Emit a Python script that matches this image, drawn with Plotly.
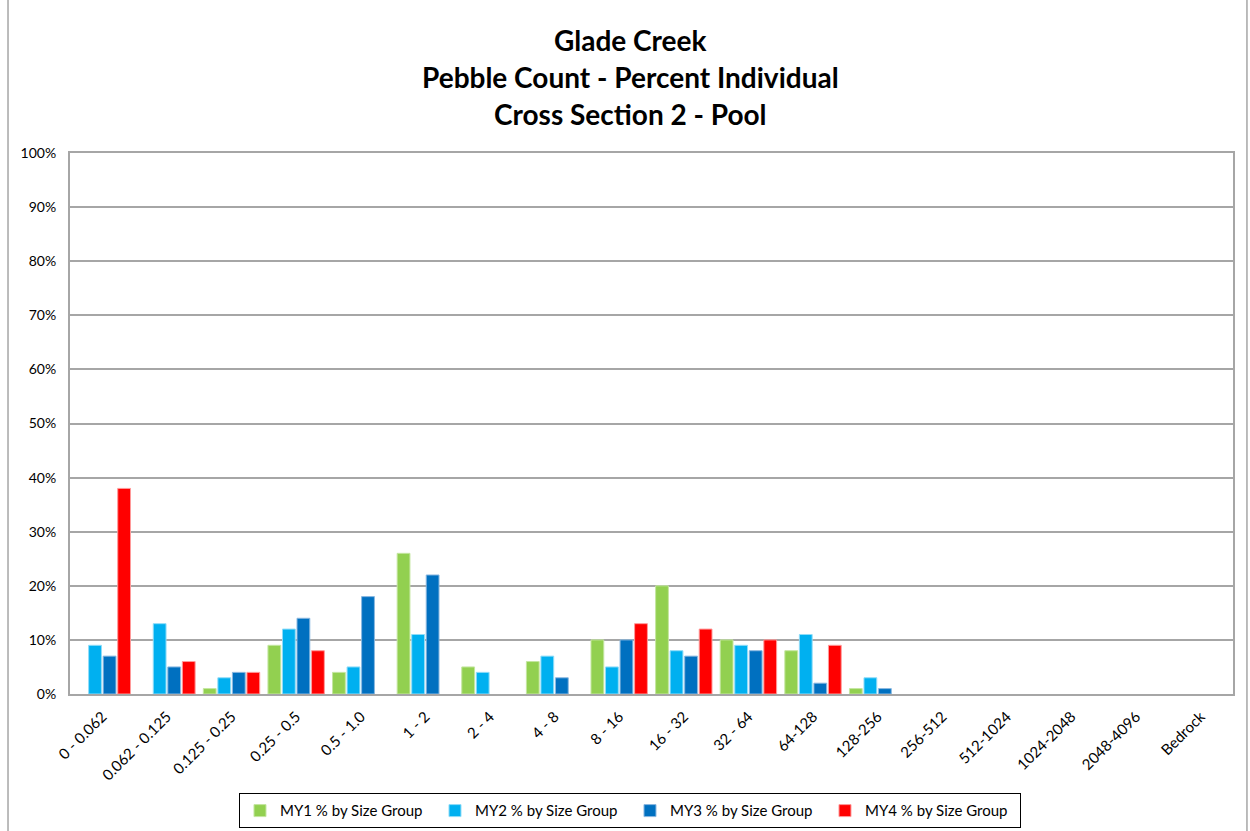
import plotly.graph_objects as go

categories = ["0 - 0.062", "0.062 - 0.125", "0.125 - 0.25", "0.25 - 0.5", "0.5 - 1.0",
              "1 - 2", "2 - 4", "4 - 8", "8 - 16", "16 - 32", "32 - 64", "64-128",
              "128-256", "256-512", "512-1024", "1024-2048", "2048-4096", "Bedrock"]
my1 = [0, 0, 1, 9, 4, 26, 5, 6, 10, 20, 10, 8, 1, 0, 0, 0, 0, 0]
my2 = [9, 13, 3, 12, 5, 11, 4, 7, 5, 8, 9, 11, 3, 0, 0, 0, 0, 0]
my3 = [7, 5, 4, 14, 18, 22, 0, 3, 10, 7, 8, 2, 1, 0, 0, 0, 0, 0]
my4 = [38, 6, 4, 8, 0, 0, 0, 0, 13, 12, 10, 9, 0, 0, 0, 0, 0, 0]
series_names = ["MY1 % by Size Group", "MY2 % by Size Group",
                "MY3 % by Size Group", "MY4 % by Size Group"]
title_lines = ["Glade Creek", "Pebble Count - Percent Individual", "Cross Section 2 - Pool"]

colors = ["#92D050", "#00B0F0", "#0070C0", "#FF0000"]
outline = ["#C4E6A0", "#8FDCF8", "#8AB8E0", "#FF9A9A"]

FONT = "Lato, Liberation Sans, Arial, sans-serif"

fig = go.Figure()
for name, vals, c, oc in zip(series_names, [my1, my2, my3, my4], colors, outline):
    shown = [v if v != 0 else None for v in vals]
    fig.add_trace(go.Bar(x=categories, y=shown, name=name,
                         marker=dict(color=c, line=dict(color=oc, width=1))))

fig.update_layout(
    width=1250, height=831,
    paper_bgcolor="white", plot_bgcolor="white",
    margin=dict(l=70, r=17, t=153, b=137, autoexpand=False),
    font=dict(family=FONT, size=14, color="black"),
    barmode="group", bargap=0.1, bargroupgap=0.12,
    showlegend=True,
    legend=dict(orientation="h", x=0.4815, xanchor="center", y=-0.216, yanchor="middle",
                bordercolor="black", borderwidth=1, font=dict(family=FONT, size=15),
                traceorder="normal", itemwidth=30, entrywidth=150, entrywidthmode="pixels"),
    xaxis=dict(showgrid=False, tickangle=-45, showline=True, linecolor="#A6A6A6",
               linewidth=2, mirror=True, ticks="", tickfont=dict(size=15), automargin=False,
               ticklabelstandoff=6),
    yaxis=dict(range=[0, 100], dtick=10, ticksuffix="%", showgrid=True,
               gridcolor="#A6A6A6", gridwidth=1.5, showline=True, linecolor="#A6A6A6",
               linewidth=2, mirror=True, ticks="", zeroline=False, tickfont=dict(size=14),
               automargin=False, ticklabelstandoff=9),
)

title_y_px = [40, 77, 114]
for txt, py in zip(title_lines, title_y_px):
    fig.add_annotation(text="<b>" + txt + "</b>", xref="paper", yref="paper",
                       x=(630 - 70) / 1163, y=(694 - py) / 541, xanchor="center",
                       yanchor="middle", showarrow=False,
                       font=dict(family=FONT, size=28, color="black"))

# outer chart border lines
fig.add_shape(type="line", xref="paper", yref="paper", x0=-0.0533, x1=-0.0533,
              y0=-0.27, y1=1.3, line=dict(color="#A6A6A6", width=1.5))
fig.add_shape(type="line", xref="paper", yref="paper", x0=1.012, x1=1.012,
              y0=-0.27, y1=1.3, line=dict(color="#A6A6A6", width=1.5))

fig.write_html("out.html", config={"displayModeBar": False},
               post_script="document.body.style.margin='0';")
